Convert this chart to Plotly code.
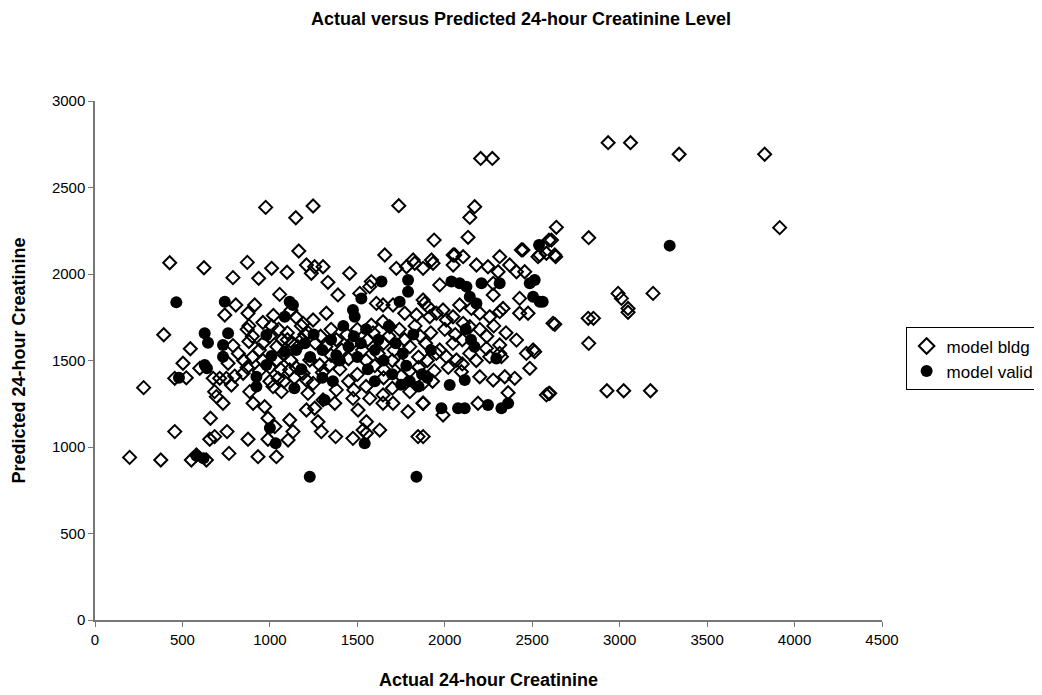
import plotly.graph_objects as go

# model bldg (open diamonds): actual, predicted
bldg_x = [198, 376, 551, 580, 637, 766, 932, 1037,
          278, 393, 427, 456, 456, 522, 503, 545, 599,
          623, 871, 1010, 1098, 789, 936, 805, 913, 742, 1056, 875,
          880, 870, 900, 880,
          960, 1010, 1050, 1100, 1000, 1070, 1130, 1160,
          789, 761, 676, 713, 751, 799, 847,
          684, 694, 732, 780, 885, 904, 970, 989, 1018, 1066, 1047, 1113,
          660, 656, 684, 755, 875, 989, 1028, 1113, 1104, 1132,
          976, 1148, 1247, 1165,
          820, 850, 900, 940, 960, 1000, 1040, 1080, 1120, 1150, 1060, 940, 870, 1000, 1080, 1140,
          960, 1040, 1100, 1180, 1200, 1150, 1020, 1120,
          1657, 1209, 1256, 1304, 1237, 1456, 1723, 1781, 1828, 1876, 1332, 1580, 1571, 1389, 1514,
          1609, 1647, 1704, 1771, 1838, 1885, 1323, 1247, 1190, 1647, 1685, 1580,
          1228, 1285, 1342, 1190, 1209, 1247, 1218, 1256, 1209, 1304, 1371, 1475, 1504, 1571, 1647,
          1647, 1704, 1790, 1876, 1275, 1294, 1376, 1552, 1533, 1628, 1847, 1475, 1552,
          1180, 1220, 1260, 1290, 1320, 1350, 1380, 1410, 1440, 1470, 1500, 1530, 1560, 1590, 1620,
          1650, 1680, 1710, 1740, 1770, 1800, 1830, 1860, 1890, 1920, 1350, 1450, 1550, 1650, 1750,
          1850, 1400, 1500, 1600, 1700, 1800, 1300, 1450, 1550, 1650, 1750, 1850, 1380, 1480, 1700,
          1800, 1900, 1940, 1930,
          1876, 1904, 1914, 1952, 1990, 2009, 2047, 2105, 2143, 1971, 2048, 2105, 1933, 2048,
          2314, 2371, 2410, 2457, 2533, 2581, 2447, 2181, 2247, 2305,
          2277, 2277, 2428, 2428, 2476, 2619, 2314, 2333, 2152, 2085, 2200, 2257,
          2314, 2410, 2505, 2238, 2257, 2324, 2047, 1971,
          1952, 2009, 2067, 2143, 2314, 2467, 2514,
          2486, 2200, 2277, 2343, 2400, 2095, 1876, 2362, 2581, 2595, 1876, 1990, 2190, 1876,
          2000, 2060, 2100, 2200, 2240, 2280, 2350, 2020, 2100, 2180,
          2205, 2272, 1737, 2171, 2143, 1939, 2133, 2596,
          1819, 1924, 2057, 2438, 2543, 2629,
          2934, 3062, 3340, 3829, 3915, 2638, 2610, 2634, 2823, 2991, 3010, 3191, 3048, 3048,
          2629, 2820, 2850, 2823, 2927, 3023, 3176, 2600]
bldg_y = [940, 925, 925, 954, 925, 963, 944, 944,
          1343, 1649, 2065, 1089, 1397, 1400, 1484, 1568, 1455,
          2036, 2067, 2033, 2010, 1979, 1975, 1821, 1821, 1763, 1882, 1773,
          1700, 1680, 1640, 1610,
          1720, 1700, 1680, 1660, 1640, 1620, 1600, 1580,
          1586, 1484, 1397, 1397, 1397, 1410, 1426,
          1320, 1291, 1253, 1358, 1320, 1253, 1233, 1166, 1349, 1320, 1397, 1445,
          1166, 1045, 1060, 1089, 1045, 1045, 1118, 1156, 1040, 1089,
          2385, 2325, 2393, 2133,
          1540, 1500, 1520, 1560, 1500, 1460, 1500, 1540, 1500, 1460, 1450, 1440, 1460, 1380, 1380, 1400,
          1600, 1580, 1620, 1700, 1650, 1750, 1760, 1790,
          2110, 2052, 2042, 2042, 2004, 2004, 2033, 2042, 2062, 2033, 1952, 1956, 1927, 1879, 1888,
          1830, 1821, 1821, 1773, 1763, 1830, 1773, 1734, 1715, 1724, 1695, 1705,
          1503, 1474, 1474, 1426, 1387, 1368, 1310, 1224, 1214, 1272, 1253, 1281, 1214, 1281, 1301,
          1253, 1253, 1204, 1253, 1146, 1089, 1060, 1146, 1098, 1098, 1060, 1050, 1079,
          1620, 1660, 1600, 1640, 1580, 1680, 1620, 1560, 1650, 1600, 1680, 1560, 1620, 1660, 1540,
          1600, 1640, 1560, 1680, 1620, 1580, 1700, 1640, 1600, 1660, 1530, 1510, 1500, 1450, 1480,
          1520, 1450, 1420, 1470, 1500, 1440, 1430, 1380, 1350, 1400, 1410, 1460, 1330, 1330, 1340,
          1320, 1500, 1440, 1380,
          1850, 1811, 1753, 1773, 1792, 1734, 1753, 1715, 1695, 1937, 2110, 2100, 2062, 2052,
          2100, 2052, 2013, 2013, 2100, 2120, 2139, 2052, 2042, 2013,
          1946, 1879, 1859, 1773, 1773, 1715, 1782, 1801, 1801, 1821, 1773, 1753,
          1590, 1618, 1561, 1570, 1522, 1522, 1599, 1561,
          1541, 1522, 1503, 1541, 1541, 1541, 1551,
          1455, 1406, 1387, 1406, 1397, 1435, 1368, 1314, 1301, 1310, 1253, 1185, 1253, 1060,
          1680, 1650, 1620, 1680, 1640, 1700, 1660, 1460, 1480, 1500,
          2668, 2668, 2395, 2389, 2327, 2196, 2212, 2196,
          2081, 2081, 2110, 2139, 2110, 2110,
          2759, 2759, 2692, 2692, 2268, 2270, 2196, 2100, 2210, 1888, 1859, 1888, 1801, 1779,
          1709, 1744, 1744, 1599, 1325, 1325, 1325, 1310]

# model valid (filled circles): actual, predicted
valid_x = [465, 742, 480, 627, 646, 761, 732, 732, 627, 640, 923, 923, 980, 1009, 1113, 1132,
           980, 1085, 1085, 1033, 1000, 620, 580,
           1228, 1838, 1542, 1313, 1638, 1790, 1790, 1523, 1742, 1475, 1485,
           1200, 1250, 1300, 1350, 1400, 1420, 1450, 1480, 1500, 1520, 1550, 1560, 1600, 1620,
           1650, 1680, 1700, 1720, 1750, 1760, 1780, 1800, 1820, 1850, 1870, 1900, 1920, 1300,
           1360, 1230, 1180, 1150, 1140, 1380, 1600,
           2038, 2085, 2124, 2210, 2314, 2486, 2514, 2543, 2505, 2143, 2181, 2295, 2028, 2114,
           1981, 2076, 2114, 2247, 2324, 2362, 2539, 3286, 2120, 2150, 2170, 2560]
valid_y = [1836, 1840, 1400, 1657, 1603, 1657, 1590, 1522, 1474, 1455, 1406, 1349, 1474, 1526, 1840, 1821,
           1647, 1551, 1753, 1021, 1110, 935, 950,
           828, 828, 1021, 1272, 1956, 1965, 1898, 1859, 1840, 1792, 1753,
           1600, 1650, 1560, 1620, 1500, 1700, 1580, 1640, 1520, 1600, 1680, 1450, 1560, 1620,
           1500, 1700, 1420, 1600, 1360, 1540, 1470, 1380, 1650, 1350, 1420, 1400, 1560, 1400,
           1380, 1520, 1450, 1560, 1340, 1530, 1380,
           1956, 1946, 1927, 1946, 1946, 1946, 1965, 1840, 1869, 1869, 1830, 1512, 1358, 1387,
           1224, 1224, 1224, 1243, 1224, 1253, 2167, 2164, 1680, 1620, 1580, 1840]

x_ticks = [0, 500, 1000, 1500, 2000, 2500, 3000, 3500, 4000, 4500]
y_ticks = [0, 500, 1000, 1500, 2000, 2500, 3000]

FONT = "Liberation Sans, Arial, sans-serif"

fig = go.Figure()
fig.add_trace(go.Scatter(
    x=bldg_x, y=bldg_y, mode="markers", name="model bldg",
    marker=dict(symbol="diamond-open", size=10, color="black", line=dict(width=2, color="black")),
))
fig.add_trace(go.Scatter(
    x=valid_x, y=valid_y, mode="markers", name="model valid",
    marker=dict(symbol="circle", size=12, color="black", line=dict(width=0)),
))

fig.update_layout(
    width=1042, height=695,
    paper_bgcolor="white", plot_bgcolor="white",
    margin=dict(l=87, r=168, t=93, b=83, autoexpand=False),
    font=dict(family=FONT, size=15, color="black"),
    title=dict(text="<b>Actual versus Predicted 24-hour Creatinine Level</b>",
               x=0.4923, xanchor="center", y=0.985, yanchor="middle",
               font=dict(family=FONT, size=18, color="black")),
    showlegend=True,
    legend=dict(x=1.03, y=0.503, xanchor="left", yanchor="middle",
                bordercolor="black", borderwidth=1, bgcolor="white",
                font=dict(family=FONT, size=17, color="black"),
                itemsizing="constant", tracegroupgap=0, itemwidth=30),
    xaxis=dict(range=[0, 4500], tickvals=x_ticks, ticktext=[str(v) for v in x_ticks],
               showgrid=False, zeroline=False, showline=True, linecolor="#777777", linewidth=1.5,
               ticks="outside", ticklen=5, tickcolor="#777777", automargin=False,
               tickfont=dict(family=FONT, size=15),
               title=dict(text="<b>Actual 24-hour Creatinine</b>", standoff=27,
                          font=dict(family=FONT, size=18))),
    yaxis=dict(range=[0, 3000], tickvals=y_ticks, ticktext=[str(v) for v in y_ticks],
               showgrid=False, zeroline=False, showline=True, linecolor="#777777", linewidth=1.5,
               ticks="outside", ticklen=5, tickcolor="#777777", automargin=False,
               tickfont=dict(family=FONT, size=15),
               title=dict(text="<b>Predicted 24-hour Creatinine</b>", standoff=22,
                          font=dict(family=FONT, size=18))),
)

fig.write_html("out.html")
